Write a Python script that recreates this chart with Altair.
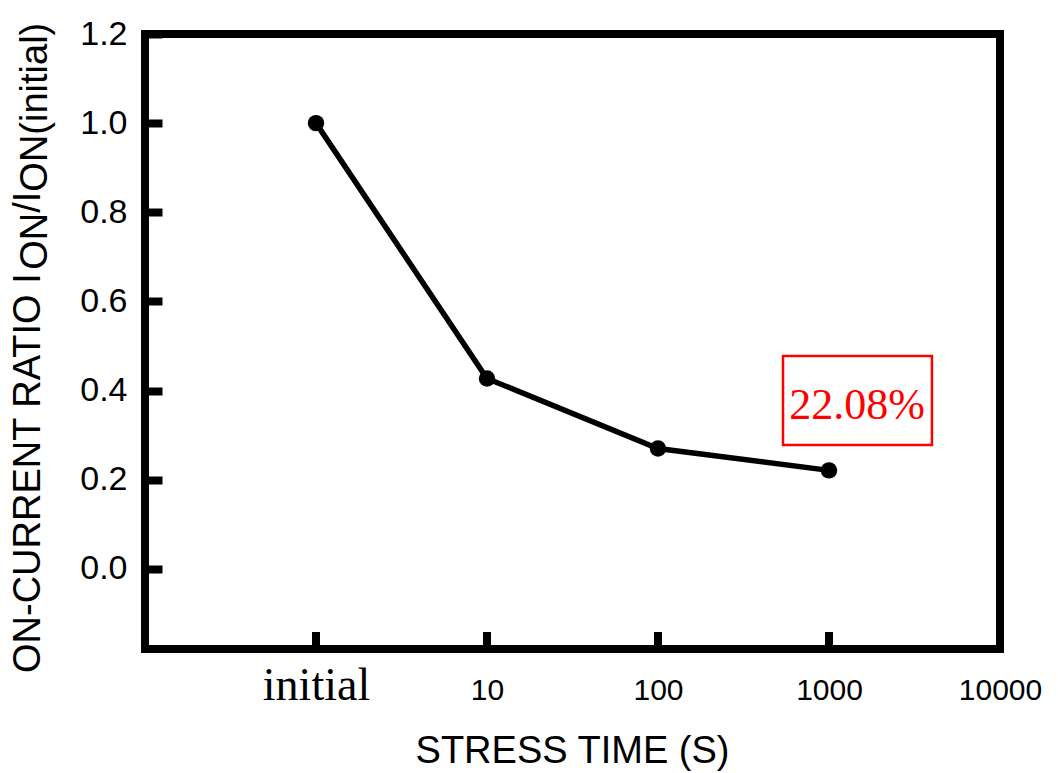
import json
import altair as alt
import pandas as pd

# ---------------- data ----------------
stress_labels = ["initial", "10", "100", "1000"]
on_ratio = [1.0, 0.427, 0.27, 0.2208]
x_tick_labels = ["initial", "10", "100", "1000", "10000"]
y_tick_values = [0.0, 0.2, 0.4, 0.6, 0.8, 1.0, 1.2]
y_domain = [-0.18, 1.2]
x_domain = [0, 5]
annotation_text = ["22.08%"]
annotation_box = [3.731, 4.602, 0.278, 0.4776]   # x, x2, y, y2 (data units)
annotation_anchor = [4.164, 0.336]                # x, y (data units)
x_title = "STRESS TIME (S)"
y_title_parts = ["ON-CURRENT RATIO I", "ON", "/I", "ON(initial)"]
y_title_is_sub = [False, True, False, True]

# ---------------- layout ----------------
W, H = 855, 615
SANS = "Liberation Sans"
SERIF = "Liberation Serif"
TITLE_SIZE = 38
FRAME = 8
TICK_LEN = 17

df = pd.DataFrame({
    "pos": list(range(1, len(stress_labels) + 1)),
    "label": stress_labels,
    "ratio": on_ratio,
})

xs = alt.Scale(domain=x_domain, nice=False, zero=False)
ys = alt.Scale(domain=y_domain, nice=False, zero=False)

labels_js = json.dumps(x_tick_labels).replace('"', "'")

x_axis = alt.Axis(
    values=list(range(1, len(x_tick_labels) + 1)),
    labelExpr=f"{labels_js}[datum.value - 1]",
    title=None, ticks=False, domain=False, grid=False,
    labelFont={"condition": {"test": "datum.value == 1", "value": SERIF}, "value": SANS},
    labelFontSize={"condition": {"test": "datum.value == 1", "value": 46}, "value": 30},
    labelBaseline="alphabetic", labelPadding=50, labelColor="black",
    labelOverlap=False, labelFlush=False, labelBound=False,
)
# axis moved inward by the tick length so its ticks point into the plot
y_axis = alt.Axis(
    values=y_tick_values, format=".1f", title=None, domain=False, grid=False,
    offset=-TICK_LEN, ticks=True, tickSize=TICK_LEN, tickWidth=FRAME,
    tickColor="black", tickCap="butt",
    labelFont=SANS, labelFontSize=34, labelPadding=18,
    labelColor="black", labelOverlap=False, labelFlush=False,
)

line = alt.Chart(df).mark_line(color="black", strokeWidth=5.5).encode(
    x=alt.X("pos:Q", scale=xs, axis=x_axis),
    y=alt.Y("ratio:Q", scale=ys, axis=y_axis),
)
points = alt.Chart(df).mark_circle(color="black", size=270, opacity=1).encode(
    x=alt.X("pos:Q", scale=xs),
    y=alt.Y("ratio:Q", scale=ys),
)

# frame (thick box around the plot area)
frame = alt.Chart(pd.DataFrame({"k": [0]})).mark_rect(
    fillOpacity=0, stroke="black", strokeWidth=FRAME
).encode(x=alt.value(0), x2=alt.value(W), y=alt.value(0), y2=alt.value(H))

# inward x ticks
xt = pd.DataFrame({"pos": list(range(1, len(x_tick_labels)))})
x_ticks = alt.Chart(xt).mark_rule(color="black", strokeWidth=FRAME).encode(
    x=alt.X("pos:Q", scale=xs), y=alt.value(H), y2=alt.value(H - TICK_LEN)
)

# annotation
box_df = pd.DataFrame({"x": [annotation_box[0]], "x2": [annotation_box[1]],
                       "y": [annotation_box[2]], "y2": [annotation_box[3]]})
box = alt.Chart(box_df).mark_rect(fillOpacity=0, stroke="red", strokeWidth=2.5).encode(
    x=alt.X("x:Q", scale=xs), x2="x2:Q", y=alt.Y("y:Q", scale=ys), y2="y2:Q"
)
ann_df = pd.DataFrame({"x": [annotation_anchor[0]], "y": [annotation_anchor[1]],
                       "t": annotation_text})
ann = alt.Chart(ann_df).mark_text(color="red", font=SERIF, fontSize=44,
                                  align="center", baseline="alphabetic").encode(
    x=alt.X("x:Q", scale=xs), y=alt.Y("y:Q", scale=ys), text="t:N"
)

# x title
xtitle = alt.Chart(pd.DataFrame({"t": [x_title]})).mark_text(
    font=SANS, fontSize=TITLE_SIZE, color="black", align="center", baseline="alphabetic"
).encode(x=alt.value(W / 2), y=alt.value(729), text="t:N")

# y title with subscripts (Arial/Liberation Sans advance widths, em units)
ARIAL = {'O': .778, 'N': .722, '-': .333, 'C': .722, 'U': .722, 'R': .722, 'E': .667,
         'T': .611, ' ': .278, 'A': .667, 'I': .278, '/': .278, '(': .333, ')': .333,
         'i': .222, 'n': .556, 't': .278, 'a': .556, 'l': .222}
start = 639.0
rows = []
for part, sub in zip(y_title_parts, y_title_is_sub):
    rows.append({"t": part, "ypx": start, "xpx": -98.0 if sub else -105.0})
    start -= sum(ARIAL.get(c, 0.6) for c in part) * TITLE_SIZE
ytitle = alt.Chart(pd.DataFrame(rows)).mark_text(
    font=SANS, fontSize=TITLE_SIZE, color="black", angle=270,
    align="left", baseline="alphabetic"
).encode(
    x=alt.X("xpx:Q", scale=None), y=alt.Y("ypx:Q", scale=None), text="t:N"
)

chart = alt.layer(line, points, frame, x_ticks, box, ann, xtitle, ytitle).properties(
    width=W, height=H,
    autosize=alt.AutoSizeParams(type="none"),
    padding={"left": 145, "top": 34, "right": 58, "bottom": 124},
).configure(background="white").configure_view(strokeWidth=0)

chart.save("out.html", embed_options={"renderer": "svg", "actions": False})
